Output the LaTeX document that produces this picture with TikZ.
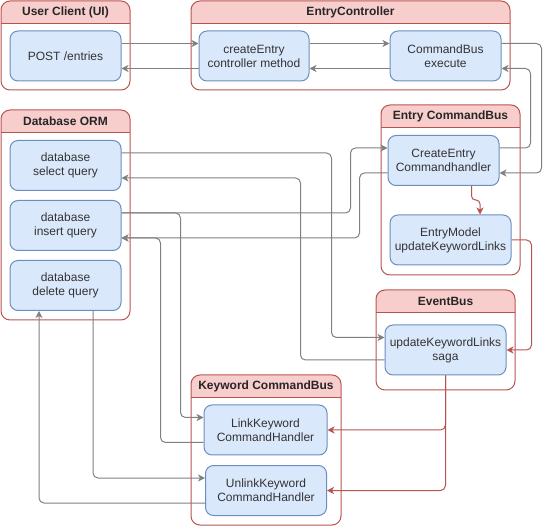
\documentclass[tikz,border=0pt]{standalone}
\usepackage{fontspec}
\setmainfont{Liberation Sans}
\usetikzlibrary{arrows.meta}
\definecolor{grpline}{HTML}{B85450}
\definecolor{grphead}{HTML}{F8CECC}
\definecolor{boxline}{HTML}{6C8EBF}
\definecolor{boxfill}{HTML}{DAE8FC}
\definecolor{connline}{HTML}{808080}
\begin{document}
\begin{tikzpicture}[x=1pt,y=-1pt,
		grp/.style={draw=grpline,line width=1pt,rounded corners=9pt},
		grptitle/.style={font=\fontsize{12}{14}\selectfont\bfseries,text=black!85},
		box/.style={draw=boxline,fill=boxfill,line width=1pt,rounded corners=8pt,
			minimum width=111pt,minimum height=50pt,align=center,
			font=\fontsize{12}{14}\selectfont,text=black!80},
		conn/.style={draw=connline,line width=1pt,rounded corners=5pt,
			-{Stealth[length=7pt,width=7pt,inset=2pt]}},
		redconn/.style={conn,draw=grpline}]
			\useasboundingbox (0,0) rectangle (549,526);
			% containers
			\foreach \nm/\xa/\ya/\xb/\yb/\ttl in {ui/1/1/130/90/User Client (UI),
				ctl/191/1/510/90/EntryController,
				orm/1/110/130/320/Database ORM,
				ecb/381/105/520/275/Entry CommandBus,
				evb/376/290/515/390/EventBus,
				kcb/191/375/341/525/Keyword CommandBus}{
				\begin{scope}
					\clip[rounded corners=9pt] (\xa,\ya) rectangle (\xb,\yb);
					\fill[grphead] (\xa,\ya) rectangle (\xb,\ya+23);
				\end{scope}
				\draw[grp] (\xa,\ya) rectangle (\xb,\yb);
				\draw[draw=grpline,line width=1pt] (\xa,\ya+23) -- (\xb,\ya+23);
				\node[grptitle] (\nm) at ({(\xa+\xb)/2},\ya+11.5) {\ttl};
			}
			% boxes
			\node[box] (post) at (65.5,56) {POST /entries};
			\node[box,minimum width=110pt] (ctrl) at (254,56) {createEntry\\controller method};
			\node[box] (exec) at (445.5,56) {CommandBus\\execute};
			\node[box] (sel) at (65.5,165.5) {database\\select query};
			\node[box] (ins) at (65.5,225.5) {database\\insert query};
			\node[box] (del) at (65.5,285.5) {database\\delete query};
			\node[box] (ceh) at (443.5,160.5) {CreateEntry\\Commandhandler};
			\node[box,minimum width=121pt] (model) at (450.5,240) {EntryModel\\updateKeywordLinks};
			\node[box,minimum width=121pt] (saga) at (445.5,350) {updateKeywordLinks\\saga};
			\node[box,minimum width=123pt] (link) at (265.5,430) {LinkKeyword\\CommandHandler};
			\node[box,minimum width=121pt] (unlink) at (266,490.5) {UnlinkKeyword\\CommandHandler};
			% gray connectors
			\draw[conn] ([yshift=12.5pt]post.east) -- ([yshift=12.5pt]ctrl.west);
			\draw[conn] ([yshift=-12.5pt]ctrl.west) -- ([yshift=-12.5pt]post.east);
			\draw[conn] ([yshift=12.5pt]ctrl.east) -- ([yshift=12.5pt]exec.west);
			\draw[conn] ([yshift=-12.5pt]exec.west) -- ([yshift=-12.5pt]ctrl.east);
			\draw[conn] ([yshift=12.5pt]exec.east) -- ++(40,0) |- ([yshift=-12.5pt]ceh.east);
			\draw[conn] ([yshift=12.5pt]ceh.east) -- ++(31,0) |- ([yshift=-12.5pt]exec.east);
			\draw[conn] ([yshift=12.5pt]sel.east) -- ++(210,0) |- ([yshift=12.5pt]saga.west);
			\draw[conn] ([yshift=-10pt]saga.west) -- ++(-84,0) |- ([yshift=-12.5pt]sel.east);
			\draw[conn] ([yshift=12.5pt]ins.east) -- ++(229,0) |- ([yshift=12.5pt]ceh.west);
			\draw[conn] ([yshift=-12.5pt]ceh.west) -- ++(-28,0) |- ([yshift=-12.5pt]ins.east);
			\draw[conn] ([yshift=12.5pt]ins.east) -- ++(59,0) |- ([yshift=12.5pt]link.west);
			\draw[conn] ([yshift=-12.5pt]link.west) -- ++(-43,0) |- ([yshift=-12.5pt]ins.east);
			\draw[conn] ([xshift=27.5pt]del.south) |- ([yshift=12.5pt]unlink.west);
			\draw[conn] ([yshift=-12.5pt]unlink.west) -| ([xshift=-26.5pt]del.south);
			% red connectors
			\draw[redconn,rounded corners=4pt] ([xshift=28pt]ceh.south) -- ++(0,14) -| ([xshift=29.5pt]model.north);
			\draw[redconn] (model.east) -- ++(20,0) |- (saga.east);
			\draw[redconn] (saga.south) |- (link.east);
			\draw[redconn] (saga.south) |- (unlink.east);
		\end{tikzpicture}
\end{document}
